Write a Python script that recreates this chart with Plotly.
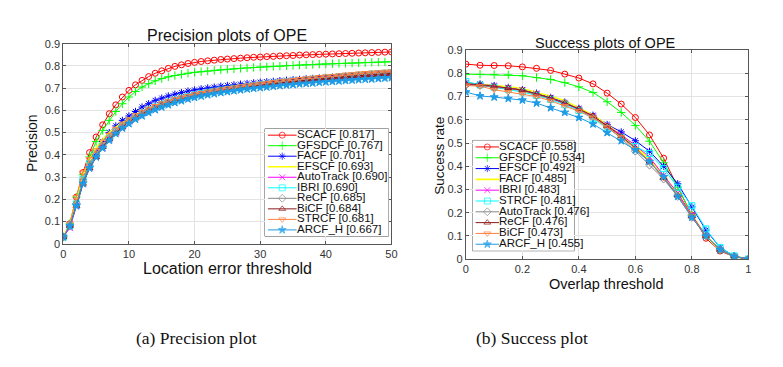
import plotly.graph_objects as go

# ---- data ----
prec_x = list(range(0, 51))

prec_scacf = [0.03,0.09,0.21,0.32,0.41,0.48,0.535,0.585,0.625,0.66,0.69,0.715,0.735,0.752,0.767,0.778,0.789,0.798,0.805,0.811,
              0.816,0.82,0.823,0.826,0.829,0.831,0.833,0.835,0.837,0.839,0.840,0.842,0.843,0.845,0.846,0.847,0.849,0.850,0.851,0.852,
              0.853,0.854,0.855,0.856,0.857,0.858,0.859,0.860,0.861,0.862,0.863]
prec_gfsdcf = [0.03,0.09,0.21,0.31,0.39,0.46,0.51,0.555,0.595,0.63,0.66,0.685,0.705,0.72,0.733,0.743,0.751,0.757,0.762,0.767,
               0.771,0.774,0.777,0.780,0.783,0.785,0.787,0.789,0.791,0.793,0.795,0.796,0.798,0.799,0.801,0.802,0.804,0.805,0.806,0.808,
               0.809,0.810,0.811,0.812,0.813,0.814,0.815,0.816,0.817,0.818,0.819]
prec_facf = [0.03,0.08,0.18,0.29,0.36,0.41,0.46,0.50,0.53,0.555,0.575,0.595,0.615,0.63,0.645,0.655,0.665,0.673,0.68,0.687,
             0.692,0.697,0.701,0.705,0.709,0.712,0.715,0.718,0.721,0.724,0.727,0.729,0.731,0.734,0.736,0.738,0.740,0.742,0.744,0.746,
             0.748,0.750,0.752,0.754,0.756,0.758,0.760,0.762,0.764,0.766,0.768]
prec_efscf = [0.03,0.09,0.20,0.31,0.38,0.43,0.47,0.50,0.525,0.545,0.56,0.575,0.59,0.603,0.615,0.626,0.636,0.645,0.653,0.661,
              0.668,0.674,0.68,0.685,0.69,0.695,0.699,0.703,0.707,0.711,0.715,0.719,0.722,0.726,0.729,0.732,0.735,0.738,0.741,0.744,
              0.747,0.749,0.752,0.754,0.757,0.759,0.761,0.764,0.766,0.768,0.770]
prec_autotrack = [0.03,0.07,0.17,0.27,0.34,0.39,0.43,0.47,0.50,0.525,0.55,0.568,0.585,0.60,0.613,0.625,0.636,0.645,0.654,0.662,
                  0.669,0.675,0.681,0.686,0.691,0.695,0.699,0.703,0.707,0.711,0.714,0.718,0.721,0.724,0.727,0.730,0.733,0.736,0.739,0.742,
                  0.745,0.747,0.750,0.752,0.755,0.757,0.759,0.762,0.764,0.766,0.768]
prec_ibri = [0.03,0.08,0.18,0.29,0.36,0.40,0.44,0.475,0.505,0.53,0.553,0.572,0.588,0.602,0.615,0.627,0.637,0.646,0.655,0.662,
             0.669,0.675,0.681,0.686,0.691,0.695,0.699,0.703,0.707,0.711,0.715,0.718,0.722,0.725,0.728,0.731,0.734,0.737,0.740,0.743,
             0.746,0.748,0.751,0.753,0.756,0.758,0.760,0.763,0.765,0.767,0.769]
prec_recf = [0.03,0.08,0.18,0.28,0.35,0.40,0.44,0.475,0.505,0.53,0.552,0.57,0.586,0.60,0.613,0.625,0.635,0.644,0.652,0.66,
             0.667,0.673,0.679,0.684,0.689,0.693,0.697,0.701,0.705,0.709,0.713,0.716,0.72,0.723,0.726,0.729,0.732,0.735,0.738,0.741,
             0.744,0.746,0.749,0.751,0.754,0.756,0.758,0.761,0.763,0.765,0.767]
prec_bicf = [0.03,0.08,0.17,0.27,0.34,0.39,0.435,0.47,0.50,0.526,0.549,0.568,0.585,0.60,0.613,0.625,0.635,0.644,0.652,0.66,
             0.667,0.673,0.679,0.685,0.69,0.694,0.698,0.702,0.706,0.71,0.714,0.717,0.721,0.724,0.727,0.73,0.733,0.736,0.739,0.742,
             0.745,0.747,0.749,0.752,0.754,0.756,0.758,0.76,0.762,0.764,0.766]
prec_strcf = [0.03,0.09,0.21,0.32,0.38,0.42,0.46,0.49,0.515,0.54,0.56,0.578,0.594,0.608,0.62,0.631,0.641,0.65,0.658,0.665,
              0.672,0.678,0.684,0.689,0.694,0.699,0.703,0.708,0.712,0.716,0.72,0.724,0.727,0.731,0.734,0.737,0.741,0.744,0.747,0.75,
              0.753,0.755,0.758,0.761,0.763,0.766,0.768,0.77,0.772,0.774,0.776]
prec_arcfh = [0.03,0.08,0.17,0.27,0.34,0.39,0.43,0.465,0.495,0.52,0.54,0.56,0.575,0.59,0.603,0.615,0.625,0.635,0.643,0.651,
              0.658,0.664,0.67,0.675,0.68,0.684,0.688,0.692,0.696,0.699,0.702,0.705,0.708,0.711,0.714,0.716,0.719,0.721,0.723,0.726,
              0.728,0.730,0.732,0.734,0.736,0.738,0.740,0.741,0.743,0.745,0.747]

succ_x = [0,0.05,0.1,0.15,0.2,0.25,0.3,0.35,0.4,0.45,0.5,0.55,0.6,0.65,0.7,0.75,0.8,0.85,0.9,0.95,1.0]

succ_scacf = [0.84,0.835,0.834,0.833,0.828,0.822,0.813,0.797,0.78,0.755,0.715,0.668,0.61,0.535,0.435,0.31,0.19,0.09,0.035,0.01,0.0]
succ_gfsdcf = [0.797,0.796,0.795,0.794,0.79,0.782,0.774,0.76,0.742,0.718,0.678,0.632,0.576,0.508,0.415,0.31,0.19,0.1,0.04,0.012,0.0]
succ_efscf = [0.76,0.755,0.748,0.74,0.73,0.715,0.697,0.675,0.65,0.62,0.58,0.548,0.51,0.465,0.4,0.325,0.225,0.125,0.05,0.013,0.0]
succ_facf = [0.755,0.752,0.748,0.742,0.735,0.718,0.702,0.682,0.652,0.62,0.578,0.535,0.485,0.43,0.36,0.28,0.19,0.1,0.04,0.012,0.0]
succ_ibri = [0.755,0.75,0.745,0.737,0.728,0.71,0.692,0.67,0.645,0.615,0.575,0.535,0.49,0.44,0.36,0.285,0.19,0.1,0.04,0.012,0.0]
succ_strcf = [0.765,0.75,0.74,0.73,0.72,0.705,0.688,0.665,0.64,0.605,0.565,0.525,0.485,0.455,0.39,0.31,0.23,0.13,0.05,0.014,0.0]
succ_autotrack = [0.75,0.748,0.74,0.735,0.725,0.708,0.692,0.675,0.645,0.61,0.57,0.52,0.465,0.405,0.345,0.27,0.18,0.1,0.04,0.012,0.0]
succ_recf = [0.755,0.752,0.745,0.737,0.728,0.712,0.694,0.672,0.647,0.617,0.574,0.53,0.478,0.42,0.35,0.275,0.185,0.1,0.04,0.012,0.0]
succ_bicf = [0.748,0.745,0.73,0.72,0.712,0.7,0.682,0.66,0.637,0.61,0.568,0.525,0.475,0.42,0.35,0.275,0.185,0.1,0.04,0.012,0.0]
succ_arcfh = [0.72,0.703,0.698,0.692,0.685,0.672,0.652,0.632,0.61,0.582,0.545,0.51,0.47,0.42,0.355,0.27,0.18,0.1,0.04,0.012,0.0]

prec_labels = ['SCACF [0.817]', 'GFSDCF [0.767]', 'FACF [0.701]', 'EFSCF [0.693]', 'AutoTrack [0.690]',
               'IBRI [0.690]', 'ReCF [0.685]', 'BiCF [0.684]', 'STRCF [0.681]', 'ARCF_H [0.667]']
succ_labels = ['SCACF [0.558]', 'GFSDCF [0.534]', 'EFSCF [0.492]', 'FACF [0.485]', 'IBRI [0.483]',
               'STRCF [0.481]', 'AutoTrack [0.476]', 'ReCF [0.476]', 'BiCF [0.473]', 'ARCF_H [0.455]']

prec_series = [prec_scacf, prec_gfsdcf, prec_facf, prec_efscf, prec_autotrack,
               prec_ibri, prec_recf, prec_bicf, prec_strcf, prec_arcfh]
succ_series = [succ_scacf, succ_gfsdcf, succ_efscf, succ_facf, succ_ibri,
               succ_strcf, succ_autotrack, succ_recf, succ_bicf, succ_arcfh]

# style by legend position (same in both plots)
colors = ['#ff0000', '#00ff00', '#0000ff', '#ffff00', '#ff00ff',
          '#00ffff', '#888888', '#8b1a1a', '#ff8040', '#1e9be6']
symbols = ['circle-open', 'cross-thin-open', 'asterisk-open', None, 'x-thin-open',
           'square-open', 'diamond-open', 'triangle-up-open', 'triangle-down-open', 'star']
line_w = [1, 1, 1, 1.6, 1, 1, 1, 1, 1, 1]

W, H = 783, 367
FONT = 'Liberation Sans, Arial, sans-serif'


def px_x(p):
    return p / W


def px_y(p):
    return 1 - p / H


fig = go.Figure()


def add_curves(xs, series, labels, xa, ya):
    for i, ys in enumerate(series):
        sym = symbols[i]
        fig.add_trace(go.Scatter(
            x=xs, y=ys, xaxis=xa, yaxis=ya, name=labels[i],
            mode='lines' if sym is None else 'lines+markers',
            line=dict(color=colors[i], width=line_w[i]),
            marker=dict(symbol=sym or 'circle', size=6, color=colors[i],
                        line=dict(color=colors[i], width=1)),
            showlegend=False, hoverinfo='skip'))


def add_legend(labels, xa, ya, x0, x1, xm, xt):
    # one row per label, drawn on its own hidden axes
    for i, lab in enumerate(labels):
        sym = symbols[i]
        fig.add_trace(go.Scatter(
            x=[x0, xm, x1], y=[i + 1] * 3, xaxis=xa, yaxis=ya,
            mode='lines' if sym is None else 'lines+markers',
            line=dict(color=colors[i], width=line_w[i]),
            marker=dict(symbol=sym or 'circle', size=[0, 6, 0], color=colors[i],
                        line=dict(color=colors[i], width=1)),
            showlegend=False, hoverinfo='skip', cliponaxis=False))
    fig.add_trace(go.Scatter(
        x=[xt] * len(labels), y=list(range(1, len(labels) + 1)), xaxis=xa, yaxis=ya,
        mode='text', text=labels, textposition='middle right', cliponaxis=False,
        textfont=dict(family=FONT, size=11.5, color='#111'),
        showlegend=False, hoverinfo='skip'))


add_curves(prec_x, prec_series, prec_labels, 'x', 'y')
add_curves(succ_x, succ_series, succ_labels, 'x2', 'y2')
add_legend(prec_labels, 'x3', 'y3', 0.024, 0.256, 0.14, 0.26)
add_legend(succ_labels, 'x4', 'y4', 0.03, 0.26, 0.145, 0.26)

axis_common = dict(showline=True, linecolor='#555', linewidth=1, mirror='ticks',
                   ticks='inside', ticklen=3, tickcolor='#555',
                   showgrid=True, gridcolor='#e3e3e3', gridwidth=1, zeroline=False,
                   tickfont=dict(family=FONT, size=11, color='#333'))

hidden = dict(visible=False, fixedrange=True)

fig.update_layout(
    width=W, height=H, margin=dict(l=0, r=0, t=0, b=0),
    paper_bgcolor='white', plot_bgcolor='white',
    xaxis=dict(domain=[px_x(61), px_x(393)], range=[0, 50], dtick=10, anchor='y', **axis_common),
    yaxis=dict(domain=[px_y(245.7), px_y(39)], range=[0, 0.9], dtick=0.1, anchor='x', **axis_common),
    xaxis2=dict(domain=[px_x(468.3), px_x(754)], range=[0, 1], dtick=0.2, anchor='y2', **axis_common),
    yaxis2=dict(domain=[px_y(261.7), px_y(45.7)], range=[0, 0.9], dtick=0.1, anchor='x2', **axis_common),
    xaxis3=dict(domain=[px_x(265), px_x(390)], range=[0, 1], anchor='y3', **hidden),
    yaxis3=dict(domain=[px_y(238), px_y(127)], range=[10.6, 0.4], anchor='x3', **hidden),
    xaxis4=dict(domain=[px_x(475), px_x(578)], range=[0, 1], anchor='y4', **hidden),
    yaxis4=dict(domain=[px_y(253), px_y(139)], range=[10.6, 0.4], anchor='x4', **hidden),
)

# legend boxes
for (a, b, c, d) in [(265, 127, 390, 238), (475, 139, 578, 253)]:
    fig.add_shape(type='rect', xref='paper', yref='paper',
                  x0=px_x(a), x1=px_x(c), y0=px_y(d), y1=px_y(b),
                  line=dict(color='#555', width=1), fillcolor='white', layer='below')

# titles, axis titles and captions
texts = [
    ('Precision plots of OPE', 227, 31, 16, 0, FONT),
    ('Location error threshold', 227, 271, 16, 0, FONT),
    ('Precision', 30, 142, 14, -90, FONT),
    ('Success plots of OPE', 610, 38, 14.5, 0, FONT),
    ('Overlap threshold', 610, 287, 14.5, 0, FONT),
    ('Success rate', 442, 155, 13.5, -90, FONT),
    ('(a) Precision plot', 196, 343, 17.5, 0, 'Liberation Serif, Times New Roman, serif'),
    ('(b) Success plot', 535, 343, 17.5, 0, 'Liberation Serif, Times New Roman, serif'),
]
for t, x, y, s, ang, fam in texts:
    fig.add_annotation(text=t, xref='paper', yref='paper', x=px_x(x), y=px_y(y),
                       xanchor='center', yanchor='middle', showarrow=False, textangle=ang,
                       font=dict(family=fam, size=s, color='#111'))

# drop the browser's default body margin so the figure sits at the page corner
fig.write_html("out.html", config={'displayModeBar': False},
               post_script="document.body.style.margin='0';")
